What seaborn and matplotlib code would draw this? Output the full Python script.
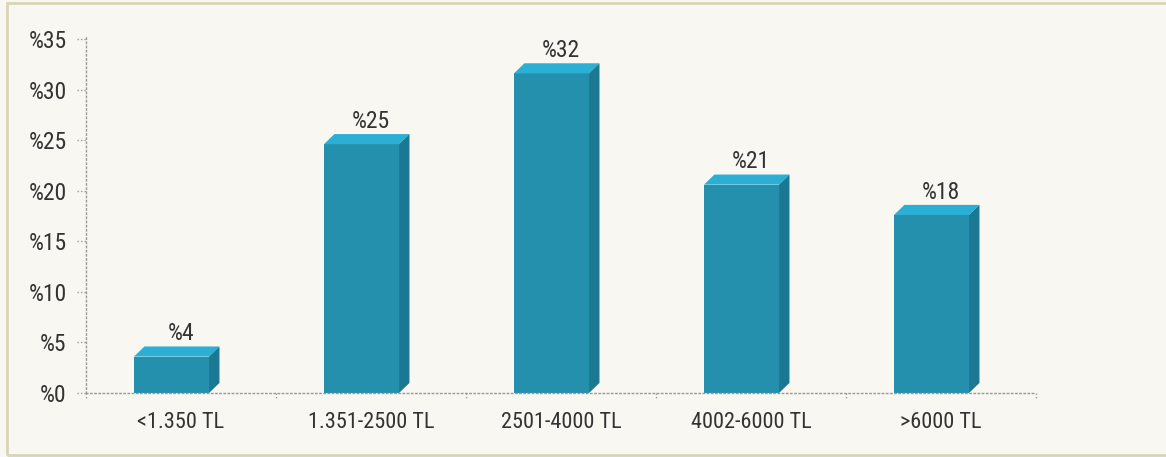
import matplotlib
matplotlib.use("Agg")
import matplotlib.pyplot as plt
import matplotlib.transforms as mtransforms
from matplotlib.patches import Polygon, Rectangle
from matplotlib import font_manager
import seaborn as sns
import pandas as pd

categories = ["<1.350 TL", "1.351-2500 TL", "2501-4000 TL", "4002-6000 TL", ">6000 TL"]
values = [4, 25, 32, 21, 18]
labels = ["%4", "%25", "%32", "%21", "%18"]
yticks = [0, 5, 10, 15, 20, 25, 30, 35]
ytick_labels = ["%0", "%5", "%10", "%15", "%20", "%25", "%30", "%35"]

BG = "#f8f7f2"
FRONT = "#2490ae"
TOP = "#2bafd4"
SIDE = "#1a7893"
TEXT = "#333333"
DOT = "#9a9a9a"

sns.set_theme(style="white")
names = {f.name for f in font_manager.fontManager.ttflist}
fam = [n for n in ["Roboto Condensed", "Liberation Sans Narrow", "Roboto"] if n in names][:1]
plt.rcParams["font.family"] = fam + ["DejaVu Sans"]

fig = plt.figure(figsize=(11.66, 4.57), dpi=100, facecolor=BG)
ax = fig.add_axes([86 / 1166, 1 - 393 / 457, 950 / 1166, (393 - 39) / 457])
ax.set_facecolor(BG)

depth_y = 1.0   # data units
depth_x = 0.055  # category units
shift = -0.05

df = pd.DataFrame({"cat": categories, "val": [v - 0.4 for v in values]})
sns.barplot(data=df, x="cat", y="val", color=FRONT, saturation=1, width=0.395, ax=ax)

for p, v, lab, i in zip(ax.patches, values, labels, range(len(values))):
    p.set_x(p.get_x() + shift)
    p.set_edgecolor("none")
    x0 = p.get_x()
    w = p.get_width()
    h = p.get_height()
    top = Polygon([(x0, h), (x0 + w, h), (x0 + w + depth_x, h + depth_y), (x0 + depth_x, h + depth_y)],
                  closed=True, facecolor=TOP, edgecolor="none")
    side = Polygon([(x0 + w, 0), (x0 + w + depth_x, depth_y), (x0 + w + depth_x, h + depth_y), (x0 + w, h)],
                   closed=True, facecolor=SIDE, edgecolor="none")
    ax.add_patch(top)
    ax.add_patch(side)
    ax.text(i, h + depth_y + 0.6, lab, ha="center", va="baseline", fontsize=17, color=TEXT)

ax.set_xlim(-0.5, len(categories) - 0.5)
ax.set_ylim(0, 35)
ax.set_xlabel("")
ax.set_ylabel("")
ax.set_yticks(yticks)
ax.set_yticklabels(ytick_labels, fontsize=17, color=TEXT)
ax.set_xticks(range(len(categories)))
ax.set_xticklabels(categories, fontsize=16, color=TEXT)
ax.tick_params(axis="both", length=0)
ax.tick_params(axis="y", pad=14)
ax.tick_params(axis="x", pad=14)

for s in ["top", "right"]:
    ax.spines[s].set_visible(False)
for s in ["left", "bottom"]:
    ax.spines[s].set_color(DOT)
    ax.spines[s].set_linestyle((0, (1, 2)))
    ax.spines[s].set_linewidth(1.0)
ax.spines["left"].set_bounds(0, 35.4)

# dotted tick marks
tr_y = mtransforms.blended_transform_factory(ax.transAxes, ax.transData)
for t in yticks:
    ax.plot([-0.01, 0.0], [t, t], transform=tr_y, color=DOT, lw=1, ls=(0, (1, 1.5)), clip_on=False)
tr_x = mtransforms.blended_transform_factory(ax.transData, ax.transAxes)
for b in [i - 0.5 for i in range(len(categories) + 1)]:
    ax.plot([b, b], [0, -0.015], transform=tr_x, color=DOT, lw=1, ls=(0, (1, 1.5)), clip_on=False)

# frame
fig.patches.append(Rectangle((7 / 1166, 2 / 457), 1.2, 1 - 5 / 457, transform=fig.transFigure,
                             fill=False, edgecolor="#d8d5b8", lw=2, zorder=-1))

fig.savefig("out.png", dpi=100, facecolor=BG)
